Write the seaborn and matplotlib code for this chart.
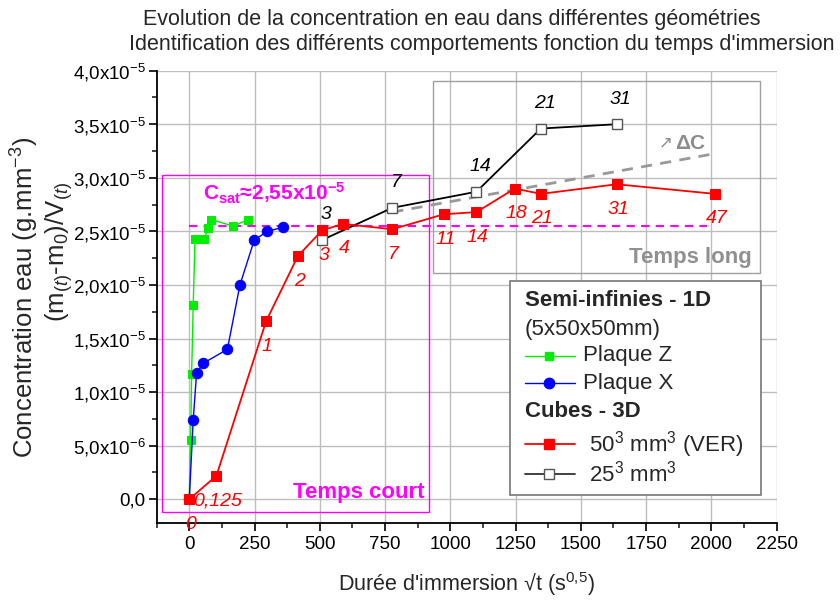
import matplotlib
matplotlib.use("Agg")
import matplotlib.pyplot as plt
import seaborn as sns
from matplotlib.patches import Rectangle
from matplotlib.ticker import MultipleLocator

# values: x = sqrt(t) (s^0.5), y = water concentration (g/mm3)
plaque_z_x = [0, 5, 9, 15, 22, 39, 56, 73, 83, 168, 226]
plaque_z_y = [0.0, 0.55e-5, 1.17e-5, 1.81e-5, 2.43e-5, 2.43e-5, 2.43e-5, 2.53e-5, 2.61e-5, 2.55e-5, 2.61e-5]
plaque_x_x = [0, 15, 28, 54, 146, 194, 249, 299, 360]
plaque_x_y = [0.0, 0.74e-5, 1.18e-5, 1.27e-5, 1.40e-5, 2.00e-5, 2.42e-5, 2.50e-5, 2.54e-5]
cube50_x = [0, 104, 294, 416, 509, 588, 778, 975, 1100, 1247, 1347, 1637, 2015]
cube50_y = [0.0, 0.22e-5, 1.66e-5, 2.27e-5, 2.51e-5, 2.57e-5, 2.52e-5, 2.66e-5, 2.68e-5,
            2.90e-5, 2.85e-5, 2.94e-5, 2.85e-5]
cube50_days = ["0", "0,125", "1", "2", "3", "4", "7", "11", "14", "18", "21", "31", "47"]
cube25_x = [509, 778, 1100, 1347, 1637]
cube25_y = [2.42e-5, 2.72e-5, 2.87e-5, 3.46e-5, 3.50e-5]
cube25_days = ["3", "7", "14", "21", "31"]
c_sat = 2.55e-5
c_sat_x = [0, 1985]
delta_c_x = [778, 2000]
delta_c_y = [2.68e-5, 3.22e-5]

x_ticks = [0, 250, 500, 750, 1000, 1250, 1500, 1750, 2000, 2250]
y_ticks = [0.0, 0.5e-5, 1.0e-5, 1.5e-5, 2.0e-5, 2.5e-5, 3.0e-5, 3.5e-5, 4.0e-5]
y_ticklabels = ["0,0", r"5,0x10$^{-6}$", r"1,0x10$^{-5}$", r"1,5x10$^{-5}$", r"2,0x10$^{-5}$",
                r"2,5x10$^{-5}$", r"3,0x10$^{-5}$", r"3,5x10$^{-5}$", r"4,0x10$^{-5}$"]

GREEN, BLUE, RED, MAGENTA, GREY = "#00ee00", "#0000ff", "#ff0000", "#ff00ff", "#8c8c8c"

sns.set_style("ticks")
plt.rcParams["font.family"] = ["Liberation Sans", "DejaVu Sans"]
plt.rcParams["mathtext.fontset"] = "custom"
plt.rcParams["mathtext.rm"] = "Liberation Sans"
plt.rcParams["mathtext.it"] = "Liberation Sans:italic"
plt.rcParams["mathtext.bf"] = "Liberation Sans:bold"

fig = plt.figure(figsize=(8.4, 6.03), dpi=100)
ax = fig.add_axes([0.1865, 0.1322, 0.738, 0.7506])

# zones
ax.add_patch(Rectangle((-103, -0.12e-5), 1021, 3.15e-5, fill=False, ec=MAGENTA, lw=1, zorder=1))
ax.add_patch(Rectangle((932, 2.115e-5), 1256, 1.789e-5, fill=False, ec="#a0a0a0", lw=1, zorder=1))
ax.text(903, 0.06e-5, "Temps court", color=MAGENTA, fontsize=16, fontweight="bold", ha="right", va="center")
ax.text(2154, 2.26e-5, "Temps long", color="#909090", fontsize=16, fontweight="bold", ha="right", va="center")

ax.plot(c_sat_x, [c_sat, c_sat], color=MAGENTA, lw=1.5, ls=(0, (4, 3)), zorder=2)
ax.text(54, 2.85e-5, r"C$_{\mathbf{sat}}$≈2,55x10$^{\mathbf{-5}}$", color=MAGENTA,
        fontsize=15, fontweight="bold", ha="left", va="center")
ax.plot(delta_c_x, delta_c_y, color="#999999", lw=2, ls=(0, (4, 3)), zorder=2)
ax.text(1798, 3.33e-5, "↗", color=GREY, fontsize=12, ha="left", va="center")
ax.text(1862, 3.32e-5, "ΔC", color=GREY, fontsize=15, fontweight="bold", ha="left", va="center")

kw = dict(ax=ax, estimator=None, sort=False, legend=False)
sns.lineplot(x=plaque_z_x, y=plaque_z_y, color=GREEN, lw=1, marker="s", ms=6, mec=GREEN, zorder=3, **kw)
sns.lineplot(x=plaque_x_x, y=plaque_x_y, color=BLUE, lw=1, marker="o", ms=7.5, mec=BLUE, zorder=4, **kw)
sns.lineplot(x=cube25_x, y=cube25_y, color="black", lw=1.3, marker="s", ms=6.5, mfc="white",
             mec="#555555", mew=1, zorder=5, **kw)
sns.lineplot(x=cube50_x, y=cube50_y, color=RED, lw=1.3, marker="s", ms=6.5, mec=RED, zorder=6, **kw)

for x, y, s in zip(cube50_x, cube50_y, cube50_days):
    ax.annotate(s, (x, y), xytext=(1, -18), textcoords="offset points", ha="center", va="center",
                color=RED, fontsize=14, style="italic", zorder=7)
for x, y, s in zip(cube25_x, cube25_y, cube25_days):
    ax.annotate(s, (x, y), xytext=(3, 18), textcoords="offset points", ha="center", va="center",
                color="black", fontsize=14, style="italic", zorder=7)

# axes
ax.set_xlim(-125, 2250)
ax.set_ylim(-0.224e-5, 4.0e-5)
ax.set_xticks(x_ticks)
ax.set_yticks(y_ticks)
ax.set_yticklabels(y_ticklabels)
ax.xaxis.set_minor_locator(MultipleLocator(125))
ax.yaxis.set_minor_locator(MultipleLocator(0.25e-5))
ax.tick_params(which="major", direction="out", length=6, width=1.2, labelsize=13.5, colors="black")
ax.tick_params(axis="y", which="major", pad=2)
ax.tick_params(which="minor", direction="out", length=3.5, width=1.2)
ax.grid(True, which="major", color="#bdbdbd", lw=1, zorder=0)
ax.set_axisbelow(True)
sns.despine(ax=ax)
for sp in ("left", "bottom"):
    ax.spines[sp].set_linewidth(1.3)
    ax.spines[sp].set_color("black")
ax.set_xlabel(r"Durée d'immersion √t (s$^{0{,}5}$)", fontsize=15.5, labelpad=12)

fig.text(0.030, 0.507, r"Concentration eau (g.mm$^{-3}$)", rotation=90, fontsize=18.5, ha="center", va="center")
fig.text(0.071, 0.582, r"(m$_{(t)}$-m$_0$)/V$_{(t)}$", rotation=90, fontsize=18.5, ha="center", va="center")
fig.text(0.538, 0.968, "Evolution de la concentration en eau dans différentes géométries",
         fontsize=15.5, ha="center", va="center")
fig.text(0.574, 0.926, "Identification des différents comportements fonction du temps d'immersion",
         fontsize=15.5, ha="center", va="center")

# legend box, drawn by hand to keep the two group headers flush left
T = ax.transAxes
ax.add_patch(Rectangle((0.570, 0.063), 0.405, 0.472, transform=T, fc="white", ec="#777777", lw=1.2, zorder=8))
rows = [0.492, 0.429, 0.370, 0.309, 0.247, 0.175, 0.109]
ax.text(0.594, rows[0], "Semi-infinies - 1D", transform=T, fontsize=16, fontweight="bold", va="center", zorder=9)
ax.text(0.594, rows[1], "(5x50x50mm)", transform=T, fontsize=16, va="center", zorder=9)
ax.text(0.594, rows[4], "Cubes - 3D", transform=T, fontsize=16, fontweight="bold", va="center", zorder=9)
entries = [
    (rows[2], "Plaque Z", dict(color=GREEN, marker="s", ms=6, mec=GREEN, lw=1)),
    (rows[3], "Plaque X", dict(color=BLUE, marker="o", ms=7.5, mec=BLUE, lw=1)),
    (rows[5], r" 50$^3$ mm$^3$ (VER)", dict(color=RED, marker="s", ms=6.5, mec=RED, lw=1.3)),
    (rows[6], r" 25$^3$ mm$^3$", dict(color="#333333", marker="s", ms=6.5, mfc="white", mec="#555555", lw=1.3)),
]
for y, label, style in entries:
    ax.plot([0.594, 0.675], [y, y], transform=T, zorder=9, clip_on=False,
            **{k: v for k, v in style.items() if k not in ("marker", "ms", "mec", "mfc")})
    ax.plot([0.633], [y], transform=T, zorder=10, clip_on=False, ls="none",
            **{k: v for k, v in style.items() if k != "lw"})
    ax.text(0.687, y, label, transform=T, fontsize=16, va="center", zorder=9)

fig.savefig("out.png", dpi=100)
